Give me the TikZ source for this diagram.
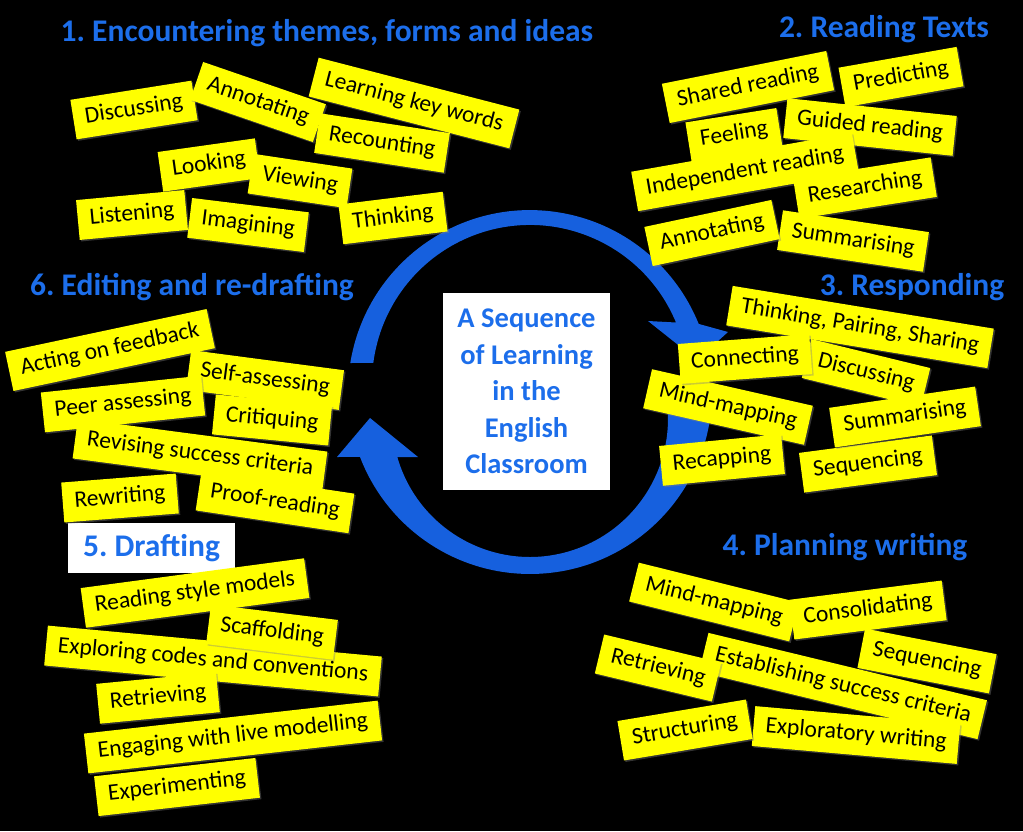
\documentclass[tikz,border=0pt]{standalone}
\usepackage{fontspec}
\setmainfont{Carlito}
\usetikzlibrary{shadows}
\frenchspacing
\definecolor{titleblue}{RGB}{28,110,235}
\definecolor{arrowblue}{RGB}{22,96,222}
\definecolor{noteyellow}{RGB}{255,255,0}
\newcommand{\notefont}{\fontsize{23.5}{27}\selectfont}
\newcommand{\headfont}{\fontsize{31.5}{35}\selectfont\bfseries}

\begin{document}
\begin{tikzpicture}[x=1pt, y=-1pt,
    note/.style={fill=noteyellow, text=black, font=\notefont, inner xsep=12pt, minimum height=40pt,
        text height=16pt, text depth=5pt, drop shadow={opacity=0.4, shadow xshift=1.5pt, shadow yshift=-1.5pt}},
    heading/.style={text=titleblue, font=\headfont, inner sep=0pt}]

    \useasboundingbox (0,0) rectangle (1023,831);
    \fill[black] (0,0) rectangle (1023,831);

    % the two curved arrows
    \fill[arrowblue] (350.3,363) arc[start angle=189.2, end angle=338, radius=182]
        -- (728,332) -- (697,360) -- (648,321) -- (676,322.5)
        arc[start angle=337.5, end angle=187.3, radius=158] -- cycle;
    \fill[arrowblue] (711.9,398) arc[start angle=1.9, end angle=159.1, radius=182]
        -- (337,457) -- (370,418) -- (418,457) -- (397.3,457)
        arc[start angle=164, end angle=-8.75, radius=138] -- cycle;

    \node[fill=white, minimum width=167pt, minimum height=197pt, align=center, text=titleblue,
        font=\fontsize{28.5}{36.5}\selectfont\bfseries] (centre) at (526.5,391.5)
        {A Sequence\\of Learning\\in the\\English\\Classroom};

    % headings
    \node[heading] (h1) at (327,33) {1. Encountering themes, forms and ideas};
    \node[heading] (h2) at (884,29) {2. Reading Texts};
    \node[heading] (h3) at (912,287) {3. Responding};
    \node[heading] (h4) at (845,547) {4. Planning writing};
    \node[heading, fill=white, minimum width=167pt, minimum height=50pt] (h5) at (151.5,548) {5. Drafting};
    \node[heading] (h6) at (192,287) {6. Editing and re-drafting};

    % 1
    \node[note, rotate=9] (enc1) at (134,110) {Discussing};
    \node[note, rotate=-14.5] (enc3) at (414,103) {Learning key words};
    \node[note, rotate=-19] (enc2) at (258,102) {Annotating};
    \node[note, rotate=-8.7] (enc4) at (382,143) {Recounting};
    \node[note, rotate=8] (enc5) at (209,165) {Looking};
    \node[note, rotate=-8.5] (enc6) at (300,181) {Viewing};
    \node[note, rotate=5.3] (enc7) at (132,215) {Listening};
    \node[note, rotate=-7] (enc8) at (248,225) {Imagining};
    \node[note, rotate=7] (enc9) at (393,218) {Thinking};

    % 2
    \node[note, rotate=11.3] (read1) at (748,87) {Shared reading};
    \node[note, rotate=10] (read2) at (901,77) {Predicting};
    \node[note, rotate=-6] (read3) at (870,127) {Guided reading};
    \node[note, rotate=9] (read4) at (734,135) {Feeling};
    \node[note, rotate=10] (read5) at (745,172) {Independent reading};
    \node[note, rotate=9] (read6) at (865,188) {Researching};
    \node[note, rotate=-8.5] (read7) at (853,241) {Summarising};
    \node[note, rotate=12] (read8) at (712,233) {Annotating};

    % 3
    \node[note, rotate=-9.3] (resp1) at (860,327) {Thinking, Pairing, Sharing};
    \node[note, rotate=-13.7] (resp2) at (866,373) {Discussing};
    \node[note, rotate=-12.8] (resp3) at (728,407) {Mind-mapping};
    \node[note, rotate=4.3] (resp4) at (745,359) {Connecting};
    \node[note, rotate=5.5] (resp5) at (722,460) {Recapping};
    \node[note, rotate=7.5] (resp6) at (868,464) {Sequencing};
    \node[note, rotate=8.3] (resp7) at (905,417) {Summarising};

    % 4
    \node[note, rotate=-14] (plan1) at (714,602) {Mind-mapping};
    \node[note, rotate=7.2] (plan2) at (868,610) {Consolidating};
    \node[note, rotate=-13.6] (plan3) at (843,686) {Establishing success criteria};
    \node[note, rotate=-11] (plan4) at (927,661) {Sequencing};
    \node[note, rotate=-13.5] (plan5) at (658,668) {Retrieving};
    \node[note, rotate=-5] (plan6) at (856,735) {Exploratory writing};
    \node[note, rotate=9.5] (plan7) at (685,730) {Structuring};

    % 5
    \node[note, rotate=7.6] (draft1) at (195,593) {Reading style models};
    \node[note, rotate=-5.3] (draft2) at (213,661) {Exploring codes and conventions};
    \node[note, rotate=-7] (draft3) at (272,632) {Scaffolding};
    \node[note, rotate=5.5] (draft4) at (158,698) {Retrieving};
    \node[note, rotate=6.5] (draft5) at (177,787) {Experimenting};
    \node[note, rotate=6.4] (draft6) at (233,737) {Engaging with live modelling};

    % 6
    \node[note, rotate=12] (edit1) at (110,350) {Acting on feedback};
    \node[note, rotate=-7.5] (edit2) at (265,380) {Self-assessing};
    \node[note, rotate=6] (edit3) at (123,404) {Peer assessing};
    \node[note, rotate=-7.5] (edit4) at (200,455) {Revising success criteria};
    \node[note, rotate=-5.5] (edit5) at (272,420) {Critiquing};
    \node[note, rotate=4.5] (edit6) at (120,498) {Rewriting};
    \node[note, rotate=-8.5] (edit7) at (275,502) {Proof-reading};
\end{tikzpicture}
\end{document}
